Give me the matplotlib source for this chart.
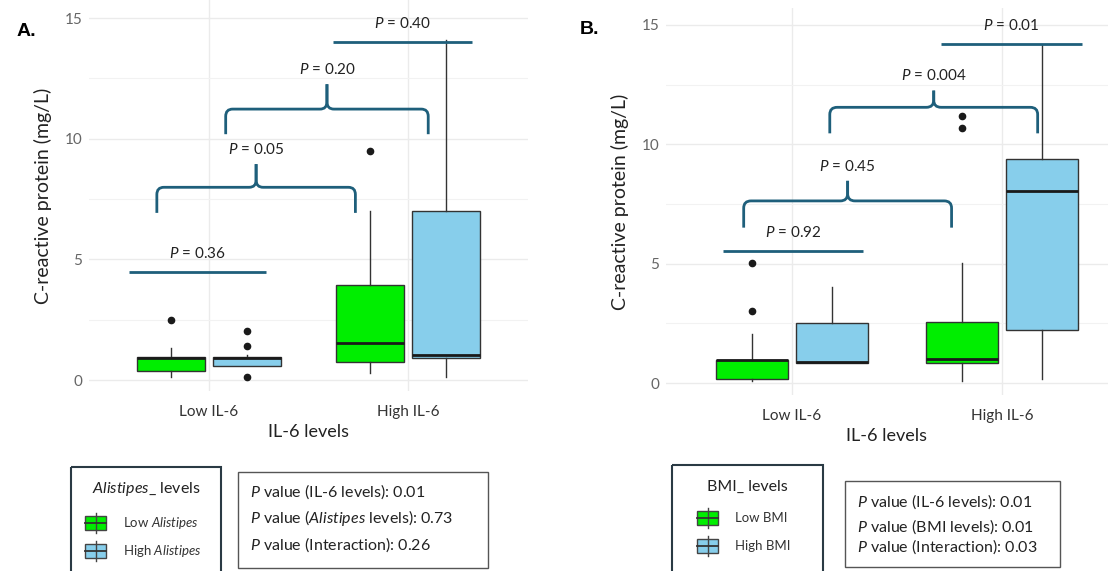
import numpy as np
import matplotlib
matplotlib.use('Agg')
import matplotlib.pyplot as plt
from matplotlib.path import Path
from matplotlib.patches import PathPatch, Rectangle

# categories on the x axis
categories = ['Low IL-6', 'High IL-6']

# panel A boxes (Alistipes levels): one value per category
a_low_q1 = [0.39, 0.76]
a_low_med = [0.93, 1.52]
a_low_q3 = [0.94, 3.93]
a_low_lo = [0.14, 0.28]
a_low_hi = [1.35, 7.0]
a_low_fliers = [[2.5], [9.5]]

a_high_q1 = [0.59, 0.90]
a_high_med = [0.90, 1.03]
a_high_q3 = [0.94, 7.0]
a_high_lo = [0.59, 0.14]
a_high_hi = [1.03, 14.08]
a_high_fliers = [[2.02, 1.43, 0.11], []]

# panel B boxes (BMI levels)
b_low_q1 = [0.17, 0.86]
b_low_med = [0.95, 1.02]
b_low_q3 = [0.98, 2.57]
b_low_lo = [0.10, 0.10]
b_low_hi = [2.04, 5.02]
b_low_fliers = [[5.02, 3.0], [11.19, 10.7]]

b_high_q1 = [0.86, 2.23]
b_high_med = [0.89, 8.06]
b_high_q3 = [2.51, 9.37]
b_high_lo = [0.86, 0.18]
b_high_hi = [4.02, 14.16]
b_high_fliers = [[], []]

# p-value annotations: straight bars (x0, x1, y, label) and braces (x0, x1, y_end, y_bar, y_tip, label)
a_bars = [(0.60, 1.285, 4.48, '0.36'), (1.625, 2.32, 14.0, '0.40')]
a_braces = [(0.74, 1.735, 6.93, 7.99, 8.95, '0.05'), (1.085, 2.10, 10.19, 11.23, 12.26, '0.20')]
b_bars = [(0.67, 1.34, 5.55, '0.92'), (1.71, 2.38, 14.2, '0.01')]
b_braces = [(0.77, 1.76, 6.51, 7.63, 8.47, '0.45'), (1.18, 2.17, 10.46, 11.55, 12.25, '0.004')]

# ANOVA p-values shown under each panel
a_pvals = [('IL-6 levels', '0.01'), ('Alistipes', '0.73'), ('Interaction', '0.26')]
b_pvals = [('IL-6 levels', '0.01'), ('BMI levels', '0.01'), ('Interaction', '0.03')]

GREEN = '#00ee00'
BLUE = '#87ceeb'
TEAL = '#1e5f7b'
FONT = 'Lato'

plt.rcParams['font.family'] = [FONT, 'DejaVu Sans']
plt.rcParams['mathtext.fontset'] = 'custom'
plt.rcParams['mathtext.rm'] = FONT
plt.rcParams['mathtext.it'] = FONT + ':italic'
plt.rcParams['mathtext.bf'] = FONT + ':bold'

P = r'$\it{P}$'


def make_stats(q1, med, q3, lo, hi, fliers):
    return [dict(q1=a, med=b, q3=c, whislo=d, whishi=e, fliers=f)
            for a, b, c, d, e, f in zip(q1, med, q3, lo, hi, fliers)]


def draw_boxes(ax, stats, offset, color):
    pos = np.arange(1, len(stats) + 1) + offset
    ax.bxp(stats, positions=pos, widths=0.34, patch_artist=True, showcaps=False,
           boxprops=dict(facecolor=color, edgecolor='#333333', linewidth=1),
           medianprops=dict(color='#1a1a1a', linewidth=2),
           whiskerprops=dict(color='#333333', linewidth=1),
           flierprops=dict(marker='o', markerfacecolor='#1a1a1a', markeredgecolor='#1a1a1a',
                           markersize=4.5))


def half_brace(ax, xe, xc, y_end, y_bar, y_tip, rx, ry):
    s = 1 if xc > xe else -1
    verts = [(xe, y_end), (xe, y_bar - ry), (xe, y_bar), (xe + s * rx, y_bar),
             (xc - s * rx, y_bar), (xc, y_bar), (xc, y_bar + ry), (xc, y_tip)]
    codes = [Path.MOVETO, Path.LINETO, Path.CURVE3, Path.CURVE3,
             Path.LINETO, Path.CURVE3, Path.CURVE3, Path.LINETO]
    ax.add_patch(PathPatch(Path(verts, codes), fill=False, edgecolor=TEAL, lw=2,
                           capstyle='butt', zorder=5))


def annotate(ax, bars, braces):
    for x0, x1, y, lab in bars:
        ax.plot([x0, x1], [y, y], color=TEAL, lw=2, solid_capstyle='butt', zorder=5)
        ax.text((x0 + x1) / 2, y + 0.45, P + ' = ' + lab, ha='center', va='bottom',
                fontsize=11, color='#222222')
    for x0, x1, ye, yb, yt, lab in braces:
        xc = (x0 + x1) / 2
        half_brace(ax, x0, xc, ye, yb, yt, 0.035, 0.3)
        half_brace(ax, x1, xc, ye, yb, yt, 0.035, 0.3)
        ax.text(xc, yt + 0.3, P + ' = ' + lab, ha='center', va='bottom',
                fontsize=11, color='#222222')


def style_axes(ax, xlim, ylim):
    ax.set_xlim(*xlim)
    ax.set_ylim(*ylim)
    ax.set_xticks([1, 2])
    ax.set_xticklabels(categories, fontsize=11, color='#333333')
    ax.set_yticks([0, 5, 10, 15])
    ax.set_yticks([2.5, 7.5, 12.5], minor=True)
    ax.tick_params(axis='both', which='both', length=0)
    ax.tick_params(axis='y', labelsize=11, labelcolor='#666666', pad=5)
    ax.tick_params(axis='x', pad=10)
    ax.grid(True, which='major', color='#ebebeb', lw=1)
    ax.grid(True, which='minor', axis='y', color='#f2f2f2', lw=0.8)
    ax.set_axisbelow(True)
    for s in ax.spines.values():
        s.set_visible(False)
    ax.set_xlabel('IL-6 levels', fontsize=13, color='#222222', labelpad=4)
    ax.set_ylabel('C-reactive protein (mg/L)', fontsize=14, color='#222222', labelpad=9)


W, H = 1108, 571
fig = plt.figure(figsize=(W / 100, H / 100), dpi=100)

axA = fig.add_axes([89 / W, 1 - 391 / H, 439 / W, 391 / H])
draw_boxes(axA, make_stats(a_low_q1, a_low_med, a_low_q3, a_low_lo, a_low_hi, a_low_fliers), -0.19, GREEN)
draw_boxes(axA, make_stats(a_high_q1, a_high_med, a_high_q3, a_high_lo, a_high_hi, a_high_fliers), 0.19, BLUE)
style_axes(axA, (0.4, 2.6), (-0.45, 15.75))
annotate(axA, a_bars, a_braces)

axB = fig.add_axes([666 / W, 1 - 395 / H, 442 / W, 387 / H])
draw_boxes(axB, make_stats(b_low_q1, b_low_med, b_low_q3, b_low_lo, b_low_hi, b_low_fliers), -0.19, GREEN)
draw_boxes(axB, make_stats(b_high_q1, b_high_med, b_high_q3, b_high_lo, b_high_hi, b_high_fliers), 0.19, BLUE)
style_axes(axB, (0.4, 2.505), (-0.5, 15.71))
annotate(axB, b_bars, b_braces)

# overlay in pixel units for panel letters and the boxes below the plots
ov = fig.add_axes([0, 0, 1, 1])
ov.set_xlim(0, W)
ov.set_ylim(H, 0)
ov.axis('off')
ov.patch.set_alpha(0)

ov.text(17, 31, 'A.', fontsize=14, fontweight='bold', va='center', family='Liberation Sans')
ov.text(580, 29, 'B.', fontsize=14, fontweight='bold', va='center', family='Liberation Sans')


def legend_key(x, y, color):
    # small boxplot glyph: box, median and whisker ticks
    ov.plot([x + 10.5, x + 10.5], [y - 3, y + 17], color='#444444', lw=1)
    ov.add_patch(Rectangle((x, y), 21, 14, facecolor=color, edgecolor='#444444', lw=1))
    ov.plot([x, x + 21], [y + 7, y + 7], color='#333333', lw=1.3)


def legend_box(x0, y0, w, title, keys):
    ov.add_patch(Rectangle((x0, y0), w, H - y0 + 5, fill=False, edgecolor='#2a3a44', lw=1.5, clip_on=False))
    ov.text(x0 + w / 2, y0 + 22, title, ha='center', va='center', fontsize=11.5, color='#222222')
    for (kx, ky, color, lab) in keys:
        legend_key(kx, ky, color)
        ov.text(kx + 38, ky + 7, lab, ha='left', va='center', fontsize=9.5, color='#333333')


def pval_box(x0, y0, x1, y1, lines, ys):
    ov.add_patch(Rectangle((x0, y0), x1 - x0, y1 - y0, fill=False, edgecolor='#555555', lw=1))
    for lab, ty in zip(lines, ys):
        ov.text(x0 + 12, ty, lab, ha='left', va='center', fontsize=11.5, color='#222222')


legend_box(71, 467, 150, r'$\it{Alistipes}$' + '_ levels',
           [(85, 516, GREEN, 'Low ' + r'$\it{Alistipes}$'), (85, 544, BLUE, 'High ' + r'$\it{Alistipes}$')])
legend_box(672, 465, 151, 'BMI_ levels',
           [(697, 511, GREEN, 'Low BMI'), (697, 539, BLUE, 'High BMI')])

a_lines = []
for name, val in a_pvals:
    if name == 'Alistipes':
        a_lines.append(P + ' value (' + r'$\it{Alistipes}$' + ' levels): ' + val)
    else:
        a_lines.append(P + ' value (' + name + '): ' + val)
b_lines = [P + ' value (' + name + '): ' + val for name, val in b_pvals]

pval_box(238, 472, 488, 568, a_lines, [492, 518, 545])
pval_box(845, 481, 1060, 567, b_lines, [502, 527, 547])

fig.savefig('out.png', dpi=100)
